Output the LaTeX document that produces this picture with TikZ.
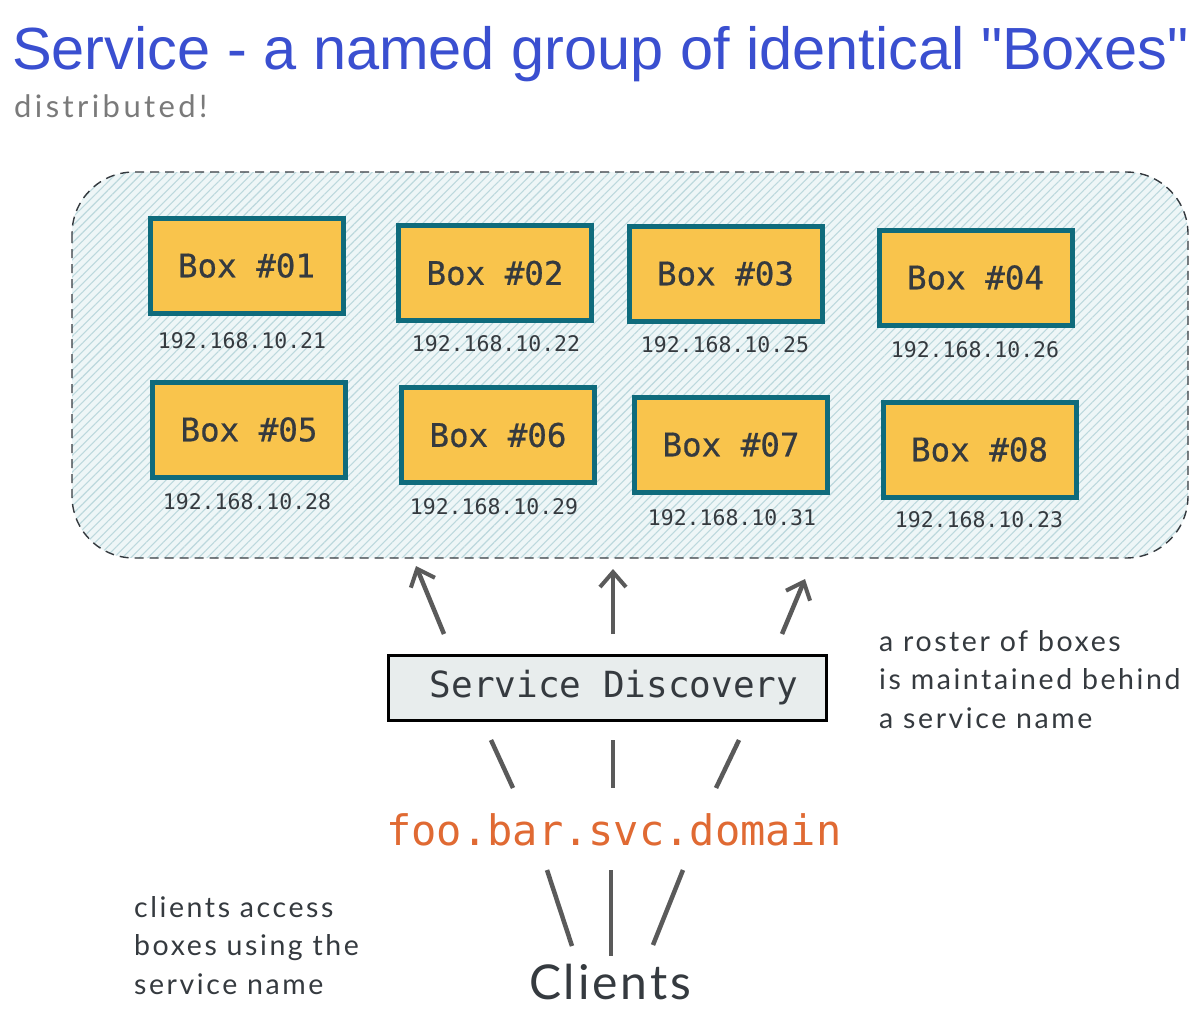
\documentclass[tikz,border=0pt]{standalone}
\usepackage{fontspec}
\setmainfont{Liberation Sans}
\setmonofont{DejaVu Sans Mono}
\newfontfamily\hand[LetterSpace=9]{Lato}
\newfontfamily\handd[LetterSpace=11]{Lato}
\newfontfamily\handc[LetterSpace=6]{Lato}
\newfontfamily\boxmono[FakeBold=0.6]{DejaVu Sans Mono}
\usetikzlibrary{arrows.meta,patterns.meta}
\definecolor{titleblue}{HTML}{3A4FD0}
\definecolor{boxfill}{HTML}{F9C44C}
\definecolor{boxedge}{HTML}{0F6B7C}
\definecolor{ink}{HTML}{353A3F}
\definecolor{hatchbg}{HTML}{EEF6F7}
\definecolor{hatchln}{HTML}{BCD8DD}
\definecolor{sdfill}{HTML}{E8EDED}
\definecolor{orng}{HTML}{E06A33}
\definecolor{arrowgray}{HTML}{5A5A5A}
\definecolor{notegray}{HTML}{7A7A7A}
\begin{document}
\begin{tikzpicture}[x=1pt,y=-1pt,
  boxn/.style={draw=boxedge,line width=5pt,fill=boxfill,minimum width=193pt,minimum height=95pt,
    inner sep=0pt,font=\boxmono\fontsize{32.5}{36}\selectfont,text=ink},
  ipn/.style={font=\ttfamily\fontsize{21.5}{24}\selectfont,text=ink},
  note/.style={font=\hand\fontsize{28.5}{38.5}\selectfont,text=ink,align=left,inner sep=0pt},
  uparrow/.style={draw=arrowgray,line width=4.5pt,-{Straight Barb[length=15pt,width=26pt,line width=4pt]}},
  tick/.style={draw=arrowgray,line width=4.5pt}]
\useasboundingbox (0,0) rectangle (1200,1028);
\fill[white] (0,0) rectangle (1200,1028);
% title
\node[anchor=base west,inner sep=0pt,text=titleblue,font=\fontsize{59.5}{66}\selectfont] (title) at (12,69) {Service - a named group of identical \textquotedbl Boxes\textquotedbl};
\node[anchor=base west,inner sep=0pt,text=notegray,font=\handd\fontsize{31}{34}\selectfont] (dist) at (14,117) {distributed!};
% container
\path[fill=hatchbg,rounded corners=62pt] (72,172) rectangle (1188,558);
\path[pattern={Lines[angle=45,distance=6pt,line width=1.1pt]},pattern color=hatchln,rounded corners=62pt] (72,172) rectangle (1188,558);
\draw[ink,line width=1.4pt,dash pattern=on 9pt off 6pt,rounded corners=62pt] (72,172) rectangle (1188,558);
% boxes
\node[boxn] (b1) at (246.5,265.5) {Box \#01\hspace{8pt}};
\node[boxn] (b2) at (495,273) {Box \#02\hspace{4pt}};
\node[boxn] (b3) at (725.5,273.5) {Box \#03\hspace{6pt}};
\node[boxn] (b4) at (975.5,277.5) {Box \#04\hspace{6pt}};
\node[boxn] (b5) at (249,429.5) {Box \#05\hspace{8pt}};
\node[boxn] (b6) at (498,435) {Box \#06\hspace{8pt}};
\node[boxn] (b7) at (731,444.5) {Box \#07\hspace{6pt}};
\node[boxn] (b8) at (979.5,449.5) {Box \#08\hspace{4pt}};
\node[ipn] (ip1) at (242,341) {192.168.10.21};
\node[ipn] (ip2) at (496,344) {192.168.10.22};
\node[ipn] (ip3) at (725,345) {192.168.10.25};
\node[ipn] (ip4) at (975,350) {192.168.10.26};
\node[ipn] (ip5) at (247,502) {192.168.10.28};
\node[ipn] (ip6) at (494,507) {192.168.10.29};
\node[ipn] (ip7) at (732,518) {192.168.10.31};
\node[ipn] (ip8) at (979,520) {192.168.10.23};
% service discovery
\node[draw=black,line width=3pt,fill=sdfill,minimum width=438pt,minimum height=65pt,inner sep=0pt,
  font=\ttfamily\fontsize{36}{40}\selectfont,text=ink] (sd) at (607,687.5) {\hspace{14pt}Service Discovery};
\node[inner sep=0pt,font=\ttfamily\fontsize{42}{46}\selectfont,text=orng] (dom) at (614,830) {foo.bar.svc.domain};
\node[inner sep=0pt,font=\handc\fontsize{48}{52}\selectfont,text=ink] (cli) at (610,982) {Clients};
% notes
\node[note,anchor=north west] (n1) at (879,630) {a roster of boxes\\is maintained behind\\a service name};
\node[note,anchor=north west] (n2) at (134,896) {clients access\\boxes using the\\service name};
% arrows up
\coordinate (a1s) at (444,634); \coordinate (a1e) at (416,566);
\coordinate (a2s) at (613,634); \coordinate (a2e) at (613,569);
\coordinate (a3s) at (782,634); \coordinate (a3e) at (805,579);
\draw[uparrow] (a1s) -- (a1e);
\draw[uparrow] (a2s) -- (a2e);
\draw[uparrow] (a3s) -- (a3e);
% ticks below SD
\coordinate (t1s) at (491,740); \coordinate (t1e) at (513,788);
\coordinate (t2s) at (613,740); \coordinate (t2e) at (613,788);
\coordinate (t3s) at (739,740); \coordinate (t3e) at (716,788);
\draw[tick] (t1s) -- (t1e);
\draw[tick] (t2s) -- (t2e);
\draw[tick] (t3s) -- (t3e);
% ticks above clients
\coordinate (c1s) at (547,870); \coordinate (c1e) at (572,946);
\coordinate (c2s) at (611,870); \coordinate (c2e) at (611,956);
\coordinate (c3s) at (683,870); \coordinate (c3e) at (653,945);
\draw[tick] (c1s) -- (c1e);
\draw[tick] (c2s) -- (c2e);
\draw[tick] (c3s) -- (c3e);
\end{tikzpicture}
\end{document}
